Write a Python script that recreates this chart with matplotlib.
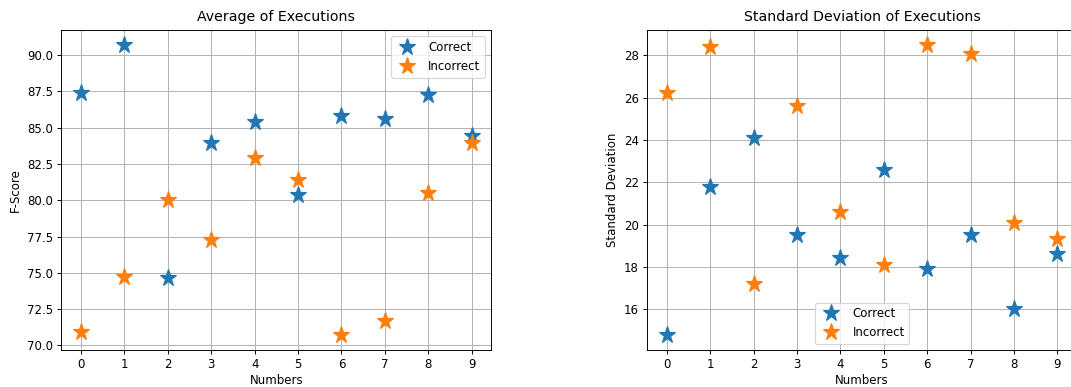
import matplotlib
matplotlib.use("Agg")
import matplotlib.pyplot as plt
import numpy as np

numbers = np.arange(10)

# mean F-score per digit over all executions
avg_correct = [87.36, 90.69, 74.66, 83.94, 85.37, 80.39, 85.76, 85.6, 87.25, 84.45]
avg_incorrect = [70.9, 74.7, 79.98, 77.27, 82.89, 81.42, 70.69, 71.67, 80.5, 83.92]

# standard deviation per digit over all executions
std_correct = [14.77, 21.8, 24.1, 19.52, 18.45, 22.58, 17.92, 19.52, 16.0, 18.62]
std_incorrect = [26.23, 28.42, 17.19, 25.6, 20.59, 18.1, 28.5, 28.05, 20.1, 19.33]

fig, axs = plt.subplots(1, 2, figsize=(1071 / 85, 387 / 85), dpi=85)
fig.subplots_adjust(left=0.0574, right=1.0056, bottom=0.0956, top=0.9217, wspace=0.363)

ax = axs[0]
ax.plot(numbers, avg_correct, '*', markersize=15, label="Correct")
ax.plot(numbers, avg_incorrect, '*', markersize=15, label="Incorrect")
ax.set_title("Average of Executions", pad=8)
ax.set_xlabel("Numbers", labelpad=2)
ax.set_ylabel("F-Score")
ax.set_xticks(numbers)
ax.grid()
ax.legend(loc="upper right")

ax = axs[1]
ax.plot(numbers, std_correct, '*', markersize=15, label="Correct")
ax.plot(numbers, std_incorrect, '*', markersize=15, label="Incorrect")
ax.set_title("Standard Deviation of Executions", pad=8)
ax.set_xlabel("Numbers", labelpad=2)
ax.set_ylabel("Standard Deviation")
ax.set_xticks(numbers)
ax.grid()
ax.legend(loc="lower center")

fig.savefig("out.png", dpi=85)
